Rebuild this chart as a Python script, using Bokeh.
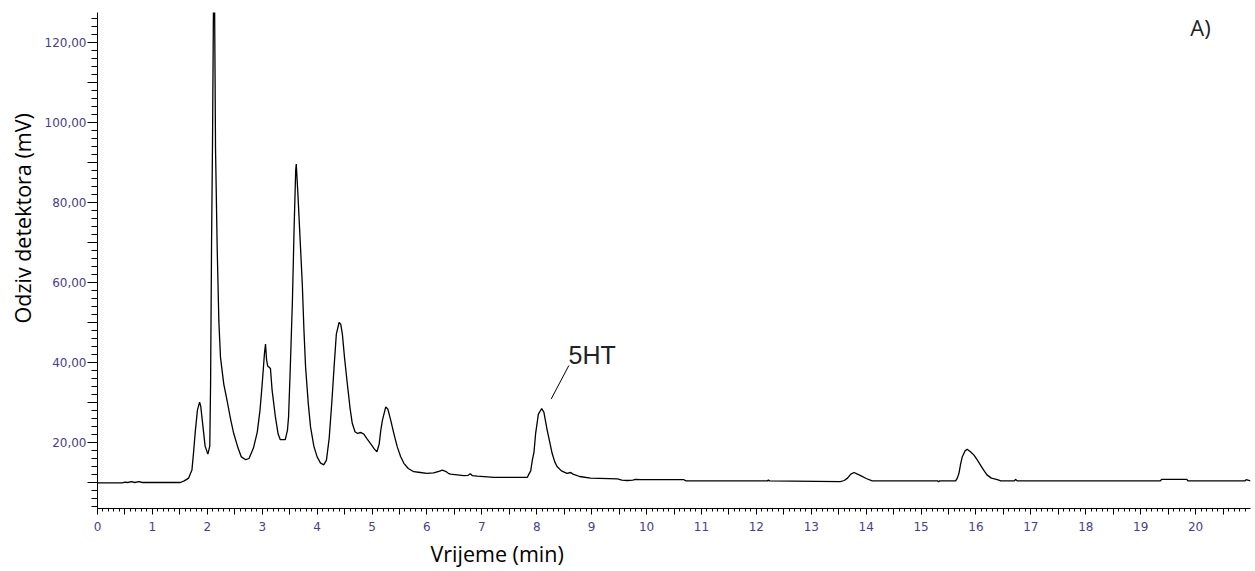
from bokeh.plotting import figure
from bokeh.models import (FixedTicker, CustomJSTickFormatter, Label, Range1d,
                          ColumnDataSource, Title)
from bokeh.embed import file_html
from bokeh.resources import INLINE

# ---- data ----
time_min = [0.00, 0.45, 0.50, 0.55, 0.62, 0.68, 0.75, 0.82, 1.00, 1.40, 1.51, 1.58, 1.66, 1.72, 1.75,
            1.78, 1.82, 1.86, 1.88, 1.92, 1.96, 2.01, 2.045, 2.06, 2.077, 2.095, 2.11, 2.12, 2.13, 2.15,
            2.18, 2.21, 2.24, 2.30, 2.36, 2.42, 2.48, 2.56, 2.62, 2.70, 2.76, 2.84, 2.91, 2.96, 3.00,
            3.04, 3.06, 3.08, 3.10, 3.15, 3.18, 3.24, 3.29, 3.33, 3.42, 3.46, 3.48, 3.51, 3.55, 3.58,
            3.61, 3.62, 3.65, 3.70, 3.73, 3.76, 3.79, 3.84, 3.88, 3.94, 4.00, 4.06, 4.12, 4.17, 4.22,
            4.27, 4.31, 4.35, 4.40, 4.43, 4.46, 4.50, 4.55, 4.60, 4.64, 4.69, 4.73, 4.80, 4.85, 4.91,
            4.97, 5.04, 5.09, 5.13, 5.16, 5.19, 5.25, 5.29, 5.34, 5.40, 5.46, 5.52, 5.58, 5.66, 5.76,
            5.88, 6.00, 6.12, 6.22, 6.28, 6.34, 6.39, 6.43, 6.55, 6.67, 6.75, 6.79, 6.83, 6.92, 7.22,
            7.83, 7.85, 7.89, 7.92, 7.95, 7.98, 8.03, 8.09, 8.13, 8.19, 8.24, 8.28, 8.33, 8.37, 8.45,
            8.55, 8.62, 8.66, 8.78, 8.98, 9.47, 9.55, 9.65, 9.75, 9.80, 9.89, 10.68, 10.72, 10.80, 12.20,
            12.22, 12.24, 13.53, 13.60, 13.66, 13.72, 13.78, 13.84, 13.90, 14.00, 14.11, 15.30, 15.32, 15.34, 15.63,
            15.66, 15.69, 15.72, 15.75, 15.80, 15.84, 15.90, 15.96, 16.02, 16.08, 16.14, 16.20, 16.28, 16.39, 16.45,
            16.70, 16.72, 16.75, 19.36, 19.38, 19.84, 19.86, 20.90, 20.92, 21.00]
signal_mv = [9.8, 9.8, 10.0, 9.9, 10.1, 9.9, 10.1, 9.9, 9.9, 9.9, 9.9, 10.3, 11.0, 13.0, 17.5,
             22.5, 28.0, 30.0, 29.0, 24.0, 19.0, 17.0, 19.0, 35.0, 69.0, 95.0, 125.0, 140.0, 135.0, 93.0,
             68.5, 50.3, 41.2, 34.5, 30.4, 26.0, 22.2, 18.5, 16.3, 15.6, 15.9, 18.5, 22.5, 28.0, 34.6,
             42.0, 44.5, 40.5, 39.0, 38.4, 33.0, 26.3, 22.0, 20.6, 20.6, 23.0, 26.3, 38.0, 55.3, 73.0,
             88.0, 89.5, 82.0, 68.0, 59.5, 48.0, 38.7, 29.5, 23.8, 19.0, 16.3, 14.8, 14.3, 15.5, 21.0,
             30.4, 39.0, 47.0, 49.9, 49.5, 47.0, 41.0, 34.6, 28.5, 24.7, 22.6, 22.2, 22.4, 22.0, 20.8,
             19.7, 18.3, 17.6, 19.5, 23.0, 25.5, 28.8, 28.2, 25.5, 22.0, 18.8, 16.4, 14.7, 13.4, 12.6,
             12.4, 12.2, 12.3, 12.7, 13.0, 12.7, 12.2, 12.0, 11.8, 11.6, 11.7, 12.1, 11.6, 11.5, 11.2,
             11.2, 11.8, 12.8, 15.5, 17.5, 22.2, 27.0, 28.4, 27.5, 23.0, 19.8, 17.2, 15.0, 13.9, 12.8,
             12.2, 12.4, 12.0, 11.4, 11.0, 10.8, 10.5, 10.4, 10.5, 10.7, 10.6, 10.6, 10.3, 10.3, 10.3,
             10.5, 10.3, 10.1, 10.4, 11.0, 12.0, 12.4, 12.0, 11.6, 10.9, 10.3, 10.3, 10.1, 10.3, 10.3,
             11.0, 12.2, 14.5, 16.3, 17.8, 18.2, 17.6, 16.8, 15.6, 14.3, 13.0, 11.8, 11.0, 10.6, 10.3,
             10.3, 10.7, 10.3, 10.3, 10.7, 10.7, 10.3, 10.3, 10.6, 10.3]

x_major_ticks = [i * 0.5 for i in range(0, 42)]      # 0 .. 20.5
x_minor_ticks = [i * 0.1 for i in range(0, 210)]     # 0 .. 20.9
y_major_ticks = [10, 20, 30, 40, 50, 60, 70, 80, 90, 100, 110, 120]
y_minor_ticks = list(range(4, 128, 2))

peak_label = "5HT"
peak_label_pos = (8.58, 41.7)
leader_x = [8.264, 8.585]
leader_y = [30.8, 39.15]

x_title = "Vrijeme (min)"
y_title = "Odziv detektora (mV)"
panel_title = "A)"

TICK_COLOR = "#4a3d8f"

p = figure(width=1252, height=571, output_backend="svg", toolbar_location=None,
           x_range=Range1d(0, 21.0), y_range=Range1d(3.4, 127.4),
           min_border_left=97, min_border_right=2, min_border_top=12, min_border_bottom=63)
p.outline_line_color = None
p.xgrid.grid_line_color = None
p.ygrid.grid_line_color = None
p.background_fill_color = "white"
p.border_fill_color = "white"

src = ColumnDataSource(dict(t=time_min, v=signal_mv))
p.line("t", "v", source=src, line_color="black", line_width=1.3)

# leader line for annotation
p.line(leader_x, leader_y, line_color="black", line_width=1)

# x axis
xa = p.xaxis[0]
xa.ticker = FixedTicker(ticks=x_major_ticks, minor_ticks=x_minor_ticks)
xa.formatter = CustomJSTickFormatter(code="""
    return (Math.abs(tick - Math.round(tick)) < 1e-6) ? String(Math.round(tick)) : "";
""")
xa.axis_line_color = "black"
xa.major_tick_line_color = "black"
xa.minor_tick_line_color = "black"
xa.major_tick_in = 0
xa.major_tick_out = 6
xa.minor_tick_in = 0
xa.minor_tick_out = 3
xa.major_label_text_color = TICK_COLOR
xa.major_label_text_font = "DejaVu Sans"
xa.major_label_text_font_size = "12px"
xa.major_label_standoff = 7

# y axis
ya = p.yaxis[0]
ya.ticker = FixedTicker(ticks=y_major_ticks, minor_ticks=y_minor_ticks)
ya.formatter = CustomJSTickFormatter(code="""
    return (Math.round(tick) % 20 === 0) ? tick.toFixed(2).replace('.', ',') : "";
""")
ya.axis_line_color = "black"
ya.major_tick_line_color = "black"
ya.minor_tick_line_color = "black"
ya.major_tick_in = 0
ya.major_tick_out = 10
ya.minor_tick_in = 0
ya.minor_tick_out = 6
ya.major_label_text_color = TICK_COLOR
ya.major_label_text_font = "DejaVu Sans"
ya.major_label_text_font_size = "12px"
ya.major_label_standoff = 1

# axis titles as side titles, shifted along the axis like in the original
p.add_layout(Title(text=x_title, align="left", offset=333, standoff=7,
                   text_font="Open Sans", text_font_size="21.5px",
                   text_font_style="normal", text_color="black"), "below")
p.add_layout(Title(text=y_title, align="left", offset=185, standoff=9,
                   text_font="Open Sans", text_font_size="21.5px",
                   text_font_style="normal", text_color="black"), "left")

p.add_layout(Label(x=1103, y=482, x_units="screen", y_units="screen", text=panel_title,
                   text_align="center", text_baseline="middle",
                   text_font="Open Sans", text_font_size="22px", text_color="#222222"))
p.add_layout(Label(x=peak_label_pos[0], y=peak_label_pos[1], text=peak_label,
                   text_align="left", text_baseline="alphabetic",
                   text_font="Liberation Sans", text_font_size="25px", text_color="#222222"))

open("out.html", "w").write(file_html(p, INLINE))
